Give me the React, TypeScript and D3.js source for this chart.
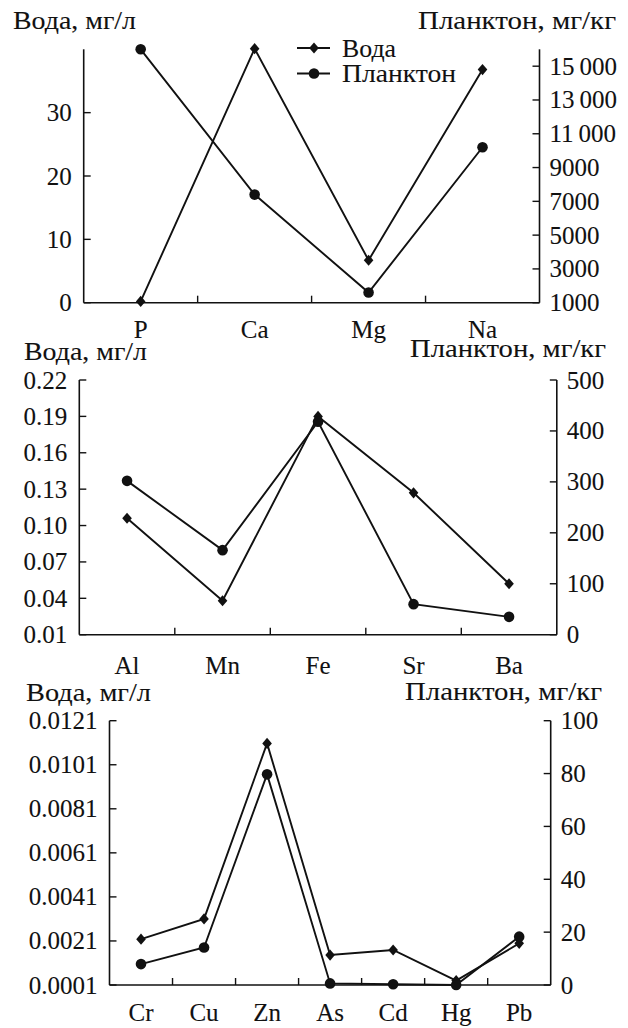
import React from "react";
import * as d3 from "d3";

// ---------- data ----------
const cats1 = ["P", "Ca", "Mg", "Na"];
const water1 = [0.2, 40.1, 6.7, 36.8];
const plankton1 = [16000, 7400, 1600, 10200];
const leftTicks1 = [0, 10, 20, 30];
const rightTicks1 = [1000, 3000, 5000, 7000, 9000, 11000, 13000, 15000];

const cats2 = ["Al", "Mn", "Fe", "Sr", "Ba"];
const water2 = [0.106, 0.038, 0.19, 0.127, 0.052];
const plankton2 = [302, 166, 418, 60, 35];
const leftTicks2 = [0.01, 0.04, 0.07, 0.1, 0.13, 0.16, 0.19, 0.22];
const rightTicks2 = [0, 100, 200, 300, 400, 500];

const cats3 = ["Cr", "Cu", "Zn", "As", "Cd", "Hg", "Pb"];
const water3 = [0.00218, 0.0031, 0.01107, 0.00146, 0.00169, 0.0003, 0.00199];
const plankton3 = [7.9, 14.2, 79.7, 0.6, 0.3, 0, 18.3];
const leftTicks3 = [0.0001, 0.0021, 0.0041, 0.0061, 0.0081, 0.0101, 0.0121];
const rightTicks3 = [0, 20, 40, 60, 80, 100];

const leftTitle = "Вода, мг/л";
const rightTitle = "Планктон, мг/кг";
const seriesNames = ["Вода", "Планктон"];

// ---------- styling ----------
const FONT = '"Liberation Serif", "DejaVu Serif", serif';
const FS = 25;
const INK = "#111";
const TS: React.CSSProperties = { fontFamily: FONT, fontSize: FS };
const TXT = { stroke: INK, strokeWidth: 0.1 };

const fmtBig = (v: number) => {
  const s = String(v);
  return v >= 10000 ? s.slice(0, s.length - 3) + "\u2009" + s.slice(-3) : s;
};

type PanelCfg = {
  cats: string[];
  water: number[];
  plankton: number[];
  leftTicks: number[];
  rightTicks: number[];
  leftDomain: [number, number];
  rightDomain: [number, number];
  leftFmt: (v: number) => string;
  rightFmt: (v: number) => string;
  x0: number;
  x1: number;
  y0: number;
  y1: number;
  titleLX: number;
  titleLY: number;
  titleLW: number;
  titleRX: number;
  titleRY: number;
  titleRW: number;
  catY: number;
  legend?: boolean;
};

const Diamond = ({ x, y }: { x: number; y: number }) => (
  <path d={`M${x},${y - 5.6}L${x + 4.8},${y}L${x},${y + 5.6}L${x - 4.8},${y}Z`} fill={INK} />
);
const Dot = ({ x, y }: { x: number; y: number }) => <circle cx={x} cy={y} r={5.3} fill={INK} />;

function Panel({ c }: { c: PanelCfg }) {
  const xb = d3.scaleBand<string>().domain(c.cats).range([c.x0, c.x1]).padding(0);
  const xc = (k: string) => (xb(k) as number) + xb.bandwidth() / 2;
  const yl = d3.scaleLinear().domain(c.leftDomain).range([c.y1, c.y0]);
  const yr = d3.scaleLinear().domain(c.rightDomain).range([c.y1, c.y0]);
  const lineL = d3
    .line<number>()
    .x((_, i) => xc(c.cats[i]))
    .y((d) => yl(d));
  const lineR = d3
    .line<number>()
    .x((_, i) => xc(c.cats[i]))
    .y((d) => yr(d));
  const TL = 7;
  const boundaries = c.cats.slice(1).map((k) => xb(k) as number);
  return (
    <g>
      <line x1={c.x0} y1={c.y0} x2={c.x0} y2={c.y1} stroke={INK} strokeWidth={1.6} />
      <line x1={c.x1} y1={c.y0} x2={c.x1} y2={c.y1} stroke={INK} strokeWidth={1.6} />
      <line x1={c.x0} y1={c.y1} x2={c.x1} y2={c.y1} stroke={INK} strokeWidth={1.6} />
      {boundaries.map((bx, i) => (
        <line key={i} x1={bx} x2={bx} y1={c.y1} y2={c.y1 - TL} stroke={INK} strokeWidth={1.4} />
      ))}
      {c.leftTicks.map((t, i) => (
        <g key={"l" + i}>
          <line x1={c.x0} x2={c.x0 + TL} y1={yl(t)} y2={yl(t)} stroke={INK} strokeWidth={1.4} />
          <text x={c.x0 - 12} y={yl(t)} dy="0.34em" textAnchor="end" style={TS} {...TXT}>
            {c.leftFmt(t)}
          </text>
        </g>
      ))}
      {c.rightTicks.map((t, i) => (
        <g key={"r" + i}>
          <line x1={c.x1} x2={c.x1 - TL} y1={yr(t)} y2={yr(t)} stroke={INK} strokeWidth={1.4} />
          <text x={c.x1 + 10} y={yr(t)} dy="0.34em" textAnchor="start" style={TS} {...TXT}>
            {c.rightFmt(t)}
          </text>
        </g>
      ))}
      {c.cats.map((k) => (
        <text key={k} x={xc(k)} y={c.catY} textAnchor="middle" style={TS} {...TXT}>
          {k}
        </text>
      ))}
      <text
        x={c.titleLX}
        y={c.titleLY}
        style={TS}
        {...TXT}
        textLength={c.titleLW}
        lengthAdjust="spacingAndGlyphs"
      >
        {leftTitle}
      </text>
      <text
        x={c.titleRX - c.titleRW}
        y={c.titleRY}
        style={TS}
        {...TXT}
        textLength={c.titleRW}
        lengthAdjust="spacingAndGlyphs"
      >
        {rightTitle}
      </text>
      <path d={lineL(c.water) || ""} fill="none" stroke={INK} strokeWidth={1.9} />
      <path d={lineR(c.plankton) || ""} fill="none" stroke={INK} strokeWidth={1.9} />
      {c.water.map((v, i) => (
        <Diamond key={"w" + i} x={xc(c.cats[i])} y={yl(v)} />
      ))}
      {c.plankton.map((v, i) => (
        <Dot key={"p" + i} x={xc(c.cats[i])} y={yr(v)} />
      ))}
      {c.legend && (
        <g>
          <line x1={297} x2={330} y1={48} y2={48} stroke={INK} strokeWidth={1.9} />
          <Diamond x={314} y={48} />
          <text
            x={342}
            y={48}
            dy="0.34em"
            style={TS}
            {...TXT}
            textLength={54}
            lengthAdjust="spacingAndGlyphs"
          >
            {seriesNames[0]}
          </text>
          <line x1={297} x2={330} y1={73.5} y2={73.5} stroke={INK} strokeWidth={1.9} />
          <Dot x={314} y={73.5} />
          <text
            x={342}
            y={73.5}
            dy="0.34em"
            style={TS}
            {...TXT}
            textLength={114}
            lengthAdjust="spacingAndGlyphs"
          >
            {seriesNames[1]}
          </text>
        </g>
      )}
    </g>
  );
}

const panels: PanelCfg[] = [
  {
    cats: cats1,
    water: water1,
    plankton: plankton1,
    leftTicks: leftTicks1,
    rightTicks: rightTicks1,
    leftDomain: [0, 40],
    rightDomain: [1000, 16000],
    leftFmt: (v) => String(v),
    rightFmt: fmtBig,
    x0: 83.7,
    x1: 539.5,
    y0: 49.3,
    y1: 302.7,
    titleLX: 13,
    titleLY: 29,
    titleLW: 123,
    titleRX: 616,
    titleRY: 29,
    titleRW: 198,
    catY: 338,
    legend: true,
  },
  {
    cats: cats2,
    water: water2,
    plankton: plankton2,
    leftTicks: leftTicks2,
    rightTicks: rightTicks2,
    leftDomain: [0.01, 0.22],
    rightDomain: [0, 500],
    leftFmt: d3.format(".2f"),
    rightFmt: (v) => String(v),
    x0: 79.3,
    x1: 556.8,
    y0: 380,
    y1: 634.7,
    titleLX: 24,
    titleLY: 359.5,
    titleLW: 123,
    titleRX: 606,
    titleRY: 357,
    titleRW: 196,
    catY: 674,
  },
  {
    cats: cats3,
    water: water3,
    plankton: plankton3,
    leftTicks: leftTicks3,
    rightTicks: rightTicks3,
    leftDomain: [0.0001, 0.0121],
    rightDomain: [0, 100],
    leftFmt: d3.format(".4f"),
    rightFmt: (v) => String(v),
    x0: 109.5,
    x1: 550.7,
    y0: 720.7,
    y1: 985,
    titleLX: 26,
    titleLY: 700.5,
    titleLW: 125,
    titleRX: 602,
    titleRY: 699.5,
    titleRW: 197,
    catY: 1021,
  },
];

export default function App() {
  return (
    <svg
      width={628}
      height={1028}
      viewBox="0 0 628 1028"
      style={{ position: "absolute", left: 0, top: 0, background: "#fff", fontFamily: FONT }}
      fill={INK}
    >
      <rect x={0} y={0} width={628} height={1028} fill="#fff" />
      {panels.map((p, i) => (
        <Panel key={i} c={p} />
      ))}
    </svg>
  );
}
